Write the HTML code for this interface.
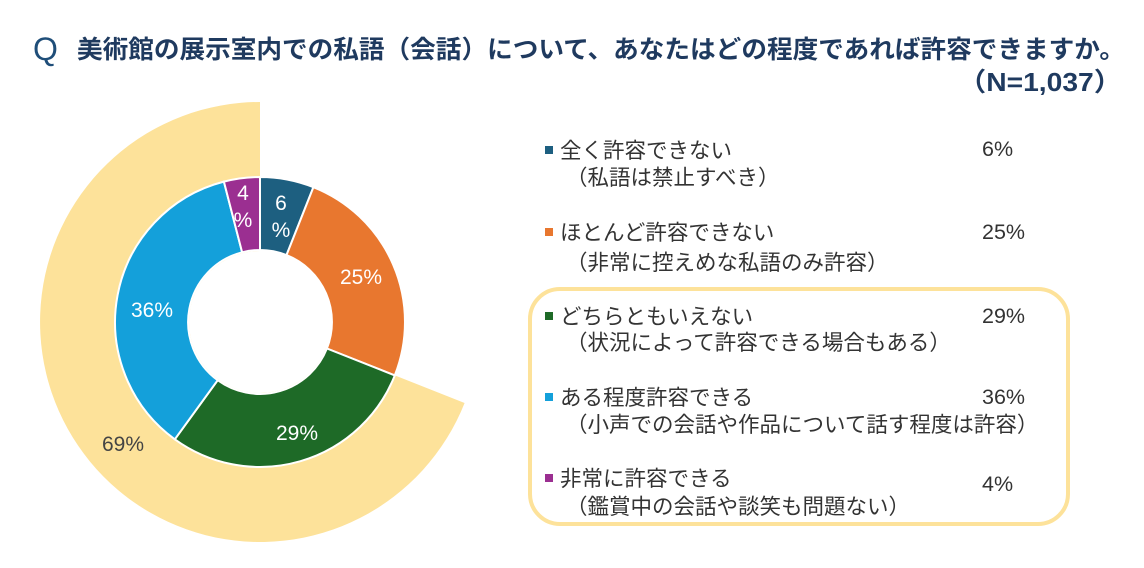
<!DOCTYPE html>
<html><head><meta charset="utf-8"><style>
body{margin:0;width:1144px;height:568px;background:#fff;overflow:hidden;font-family:"Liberation Sans","Noto Sans CJK JP",sans-serif;}
</style></head><body>
<svg width="1144" height="568" style="position:absolute;left:0;top:0" font-family="Liberation Sans, Noto Sans CJK JP, sans-serif">
<text x="33" y="60" font-size="32" fill="#1f4e79" font-family="Liberation Sans, sans-serif">Q</text>
<text x="77" y="58" font-size="25" font-weight="bold" fill="#1f3a5f" textLength="1048" lengthAdjust="spacingAndGlyphs">美術館の展示室内での私語（会話）について、あなたはどの程度であれば許容できますか。</text>
<text x="958" y="91" font-size="26" font-weight="bold" fill="#1f3a5f" textLength="164" lengthAdjust="spacingAndGlyphs">（N=1,037）</text>
<path d="M260,322 L464.6,403 A220 220 0 1 1 260,102 Z" fill="#fde29a"/>
<g stroke="#fff" stroke-width="2">
<path d="M260,177 A145 145 0 0 1 313.4,187.2 L286.5,255.1 A72 72 0 0 0 260,250 Z" fill="#1d5f80"/>
<path d="M313.4,187.2 A145 145 0 0 1 394.8,375.4 L326.9,348.5 A72 72 0 0 0 286.5,255.1 Z" fill="#e8772f"/>
<path d="M394.8,375.4 A145 145 0 0 1 174.8,439.3 L217.7,380.2 A72 72 0 0 0 326.9,348.5 Z" fill="#1e6a27"/>
<path d="M174.8,439.3 A145 145 0 0 1 223.9,181.6 L242.1,252.3 A72 72 0 0 0 217.7,380.2 Z" fill="#14a0da"/>
<path d="M223.9,181.6 A145 145 0 0 1 260,177 L260,250 A72 72 0 0 0 242.1,252.3 Z" fill="#9b2f91"/>
</g>
<circle cx="260" cy="322" r="71" fill="#fff"/>
<g font-size="21" fill="#fff" text-anchor="middle">
<text x="281" y="210">6</text><text x="281" y="237">%</text>
<text x="243" y="200">4</text><text x="243" y="227">%</text>
<text x="361" y="284">25%</text>
<text x="297" y="440">29%</text>
<text x="152" y="317">36%</text>
</g>
<text x="123" y="451" font-size="21" fill="#444" text-anchor="middle">69%</text>
<rect x="530" y="289" width="538" height="235" rx="30" fill="none" stroke="#fde29a" stroke-width="4"/>
<rect x="545" y="146" width="8" height="8" fill="#1d5f80"/>
<rect x="545" y="228" width="8" height="8" fill="#e8772f"/>
<rect x="545" y="312" width="8" height="8" fill="#1e6a27"/>
<rect x="545" y="393" width="8" height="8" fill="#14a0da"/>
<rect x="545" y="474" width="8" height="8" fill="#9b2f91"/>
<g font-size="21.5" fill="#333">
<text x="560" y="158">全く許容できない</text>
<text x="566" y="185">（私語は禁止すべき）</text>
<text x="560" y="240">ほとんど許容できない</text>
<text x="566" y="270">（非常に控えめな私語のみ許容）</text>
<text x="560" y="324">どちらともいえない</text>
<text x="566" y="350">（状況によって許容できる場合もある）</text>
<text x="560" y="405">ある程度許容できる</text>
<text x="566" y="432">（小声での会話や作品について話す程度は許容）</text>
<text x="560" y="486">非常に許容できる</text>
<text x="566" y="514">（鑑賞中の会話や談笑も問題ない）</text>
<text x="982" y="156">6%</text>
<text x="982" y="239">25%</text>
<text x="982" y="323">29%</text>
<text x="982" y="404">36%</text>
<text x="982" y="491">4%</text>
</g>
</svg>
</body></html>
